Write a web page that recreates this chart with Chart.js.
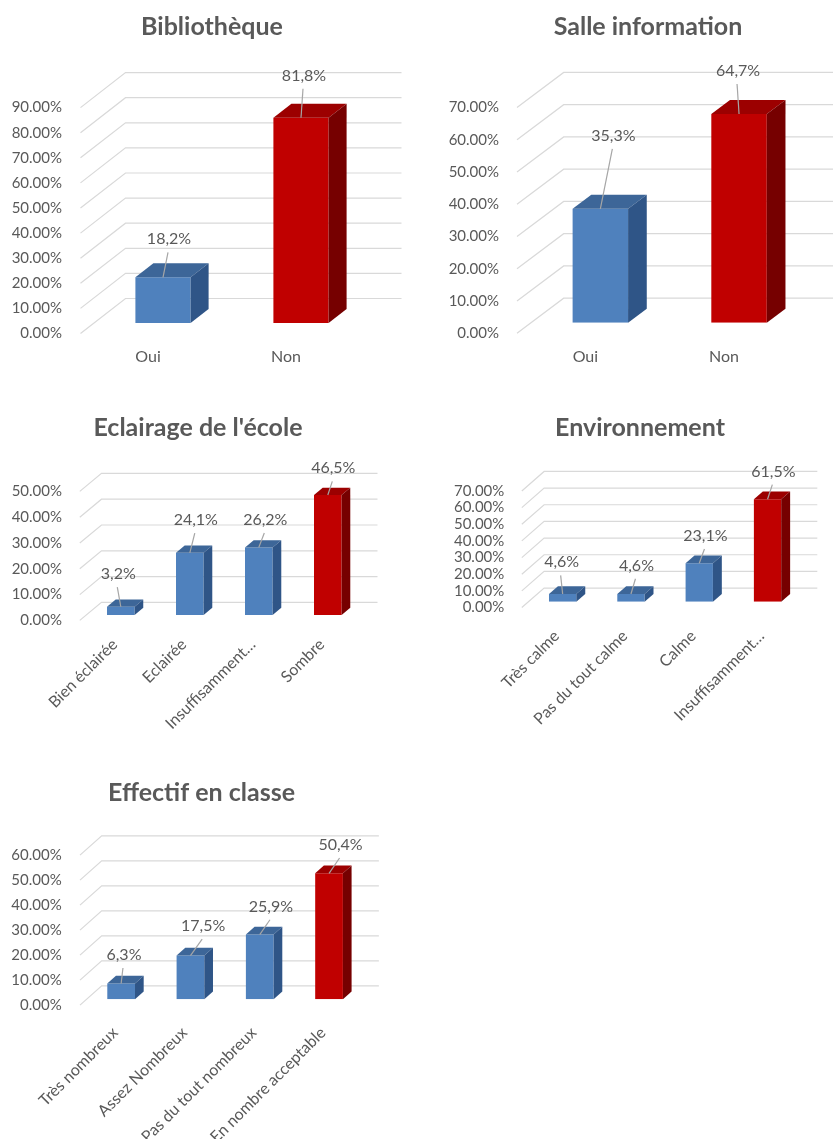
<!DOCTYPE html>
<html lang="fr">
<head>
<meta charset="utf-8">
<title>Conditions de l'école</title>
<script src="https://cdn.jsdelivr.net/npm/chart.js@4.4.1/dist/chart.umd.min.js"></script>
<style>
  html, body { margin: 0; padding: 0; background: #ffffff; }
  body { position: relative; width: 833px; height: 1139px; overflow: hidden; }
  canvas { position: absolute; }
</style>
</head>
<body>
<canvas id="bibliotheque"></canvas>
<canvas id="salle"></canvas>
<canvas id="eclairage"></canvas>
<canvas id="environnement"></canvas>
<canvas id="effectif"></canvas>
<script>
// ---- Survey results (percent of respondents) ----
const bibliothequeCategories = ['Oui', 'Non'];
const bibliothequeValues = [18.2, 81.8];

const salleCategories = ['Oui', 'Non'];
const salleValues = [35.3, 64.7];

const eclairageCategories = ['Bien éclairée', 'Eclairée', 'Insuffisamment…', 'Sombre'];
const eclairageValues = [3.2, 24.1, 26.2, 46.5];

const environnementCategories = ['Très calme', 'Pas du tout calme', 'Calme', 'Insuffisamment…'];
const environnementValues = [4.6, 4.6, 23.1, 61.5];

const effectifCategories = ['Très nombreux', 'Assez Nombreux', 'Pas du tout nombreux', 'En nombre acceptable'];
const effectifValues = [6.3, 17.5, 25.9, 50.4];

// Axis maxima (percent) and tick step
const bibliothequeMax = 90;
const salleMax = 70;
const eclairageMax = 50;
const environnementMax = 70;
const effectifMax = 60;
const tickStep = 10;

// ---- Styling ----
const TEXT = '#595959';
const GRID = '#D9D9D9';
const LEADER = '#A6A6A6';
const BLUE = '#4F81BD';
const RED = '#C00000';
const FACES = {
  [BLUE]: { top: '#3D6698', side: '#2F5587' },
  [RED]:  { top: '#9C0000', side: '#760000' }
};
const FONT = 'Lato, "Open Sans", "Liberation Sans", sans-serif';
const yTickFont = { family: FONT, size: 15 };
const xTickFont = { family: FONT, size: 16 };
const tagFont = `16px ${FONT}`;
const titleFont = { family: FONT, size: 25, weight: 'bold', lineHeight: 1.2 };

const fmtAxis = v => v.toFixed(2) + '%';
const fmtValue = v => v.toFixed(1).replace('.', ',') + '%';

// Back wall, side wall and floor gridlines of a 3-D column chart,
// plus the top and side faces of every column.
const wall3d = {
  id: 'wall3d',
  beforeDatasetsDraw(chart, args, o) {
    const { ctx, chartArea: a, scales: { y } } = chart;
    const [dx, dy] = o.depth;
    const f = o.plane;
    ctx.save();
    ctx.strokeStyle = GRID;
    ctx.lineWidth = 1.2;
    y.ticks.forEach(t => {
      const py = y.getPixelForValue(t.value);
      ctx.beginPath();
      ctx.moveTo(a.left - f * dx, py - f * dy);
      ctx.lineTo(a.left + (1 - f) * dx, py + (1 - f) * dy);
      ctx.lineTo(a.right + (1 - f) * dx, py + (1 - f) * dy);
      ctx.stroke();
    });
    ctx.restore();
  },
  afterDatasetsDraw(chart, args, o) {
    const { ctx } = chart;
    const [dx, dy] = o.depth;
    const bx = o.bar * dx, by = o.bar * dy;
    const meta = chart.getDatasetMeta(0);
    const colors = chart.data.datasets[0].backgroundColor;
    ctx.save();
    meta.data.forEach((bar, i) => {
      const { x, y, base, width } = bar.getProps(['x', 'y', 'base', 'width'], true);
      const l = x - width / 2, r = x + width / 2;
      const face = FACES[colors[i]];
      ctx.fillStyle = face.top;
      ctx.beginPath();
      ctx.moveTo(l, y); ctx.lineTo(l + bx, y + by);
      ctx.lineTo(r + bx, y + by); ctx.lineTo(r, y);
      ctx.closePath(); ctx.fill();
      ctx.fillStyle = face.side;
      ctx.beginPath();
      ctx.moveTo(r, y); ctx.lineTo(r + bx, y + by);
      ctx.lineTo(r + bx, base + by); ctx.lineTo(r, base);
      ctx.closePath(); ctx.fill();
    });
    ctx.restore();
  }
};

// Value tags with leader lines.
const valueTags = {
  id: 'valueTags',
  afterDatasetsDraw(chart, args, o) {
    const { ctx } = chart;
    const meta = chart.getDatasetMeta(0);
    const data = chart.data.datasets[0].data;
    ctx.save();
    ctx.font = tagFont;
    ctx.textAlign = 'center';
    ctx.textBaseline = 'middle';
    meta.data.forEach((bar, i) => {
      const { x, y } = bar.getProps(['x', 'y'], true);
      const [ox, oy] = o.offsets[i];
      const tx = x + ox, ty = y + oy;
      ctx.strokeStyle = LEADER;
      ctx.lineWidth = 1.2;
      ctx.beginPath();
      ctx.moveTo(x, y);
      ctx.lineTo(tx - 1, ty + 13);
      ctx.stroke();
      ctx.fillStyle = TEXT;
      ctx.fillText(fmtValue(data[i]), tx, ty);
    });
    ctx.restore();
  }
};

function build(id, title, categories, values, max, g) {
  const el = document.getElementById(id);
  el.width = g.w; el.height = g.h;
  el.style.left = g.left + 'px';
  el.style.top = g.top + 'px';
  el.style.width = g.w + 'px';
  el.style.height = g.h + 'px';
  const peak = Math.max(...values);
  const lift = -g.plane * g.depth[1];
  const titleHalf = titleFont.size * titleFont.lineHeight / 2;
  new Chart(el, {
    type: 'bar',
    data: {
      labels: categories,
      datasets: [{
        data: values,
        backgroundColor: values.map(v => (v === peak ? RED : BLUE)),
        categoryPercentage: 0.4,
        barPercentage: 1,
        borderWidth: 0
      }]
    },
    options: {
      responsive: false,
      animation: false,
      events: [],
      layout: { padding: 0 },
      plugins: {
        legend: { display: false },
        tooltip: { enabled: false },
        title: {
          display: true,
          text: title,
          color: TEXT,
          font: titleFont,
          padding: { top: g.titleY - titleHalf, bottom: g.plotTop - g.titleY - titleHalf }
        },
        wall3d: { depth: g.depth, plane: g.plane, bar: 0.4 },
        valueTags: { offsets: g.tags }
      },
      scales: {
        x: {
          grid: { display: false, drawTicks: false },
          border: { display: false },
          ticks: {
            color: TEXT, font: xTickFont, padding: g.xPad, labelOffset: g.xShift,
            minRotation: g.rot, maxRotation: g.rot, autoSkip: false
          },
          afterFit: s => { s.height = g.h - g.plotBottom; }
        },
        y: {
          min: 0, max: max,
          grid: { display: false, drawTicks: false },
          border: { display: false },
          ticks: {
            stepSize: tickStep, color: TEXT, font: yTickFont, autoSkip: false,
            padding: g.plotLeft - g.tickRight, labelOffset: lift,
            callback: v => fmtAxis(v)
          },
          afterFit: s => { s.width = g.plotLeft; }
        },
        // empty margin on the right so the plot ends where the wall needs it
        margin: {
          type: 'linear', position: 'right', display: true,
          grid: { display: false, drawTicks: false },
          border: { display: false },
          ticks: { display: false },
          afterFit: s => { s.width = g.w - g.plotRight; }
        }
      }
    },
    plugins: [wall3d, valueTags]
  });
}

build('bibliotheque', 'Bibliothèque', bibliothequeCategories, bibliothequeValues, bibliothequeMax, {
  left: 0, top: 0, w: 424, h: 380,
  plotLeft: 94, plotRight: 370, plotTop: 97.1, plotBottom: 323,
  tickRight: 62, titleY: 27, depth: [45, -35], plane: 0.3,
  xPad: 24.6, xShift: -15, rot: 0,
  tags: [[6, -38], [3, -42]]
});

build('salle', 'Salle information', salleCategories, salleValues, salleMax, {
  left: 440, top: 0, w: 416, h: 380,
  plotLeft: 91, plotRight: 368.4, plotTop: 96.9, plotBottom: 322.7,
  tickRight: 59, titleY: 27, depth: [46.7, -35], plane: 0.3,
  xPad: 24.6, xShift: -15, rot: 0,
  tags: [[13, -73], [-1, -43]]
});

build('eclairage', "Eclairage de l'école", eclairageCategories, eclairageValues, eclairageMax, {
  left: 0, top: 390, w: 396, h: 360,
  plotLeft: 86.3, plotRight: 362.3, plotTop: 96, plotBottom: 225,
  tickRight: 62, titleY: 38, depth: [21.7, -18], plane: 0.3,
  xPad: 20, xShift: -6, rot: 45,
  tags: [[-2.5, -32.7], [6, -32.8], [6.5, -27.4], [5.5, -26.7]]
});

build('environnement', 'Environnement', environnementCategories, environnementValues, environnementMax, {
  left: 440, top: 390, w: 400, h: 360,
  plotLeft: 88.5, plotRight: 361.7, plotTop: 95.1, plotBottom: 211.7,
  tickRight: 64.3, titleY: 38, depth: [22.3, -19.5], plane: 0.3,
  xPad: 25, xShift: -6, rot: 45,
  tags: [[-1, -31.7], [5.5, -28.3], [6.2, -27.2], [5.8, -27.6]]
});

build('effectif', 'Effectif en classe', effectifCategories, effectifValues, effectifMax, {
  left: 0, top: 760, w: 403, h: 379,
  plotLeft: 86.5, plotRight: 363.7, plotTop: 89.3, plotBottom: 239.3,
  tickRight: 61.7, titleY: 33.3, depth: [21.7, -19.3], plane: 0.3,
  xPad: 24, xShift: -6, rot: 45,
  tags: [[2.8, -28.5], [12.7, -29.5], [11.2, -27.8], [11.5, -28.3]]
});
</script>
</body>
</html>
